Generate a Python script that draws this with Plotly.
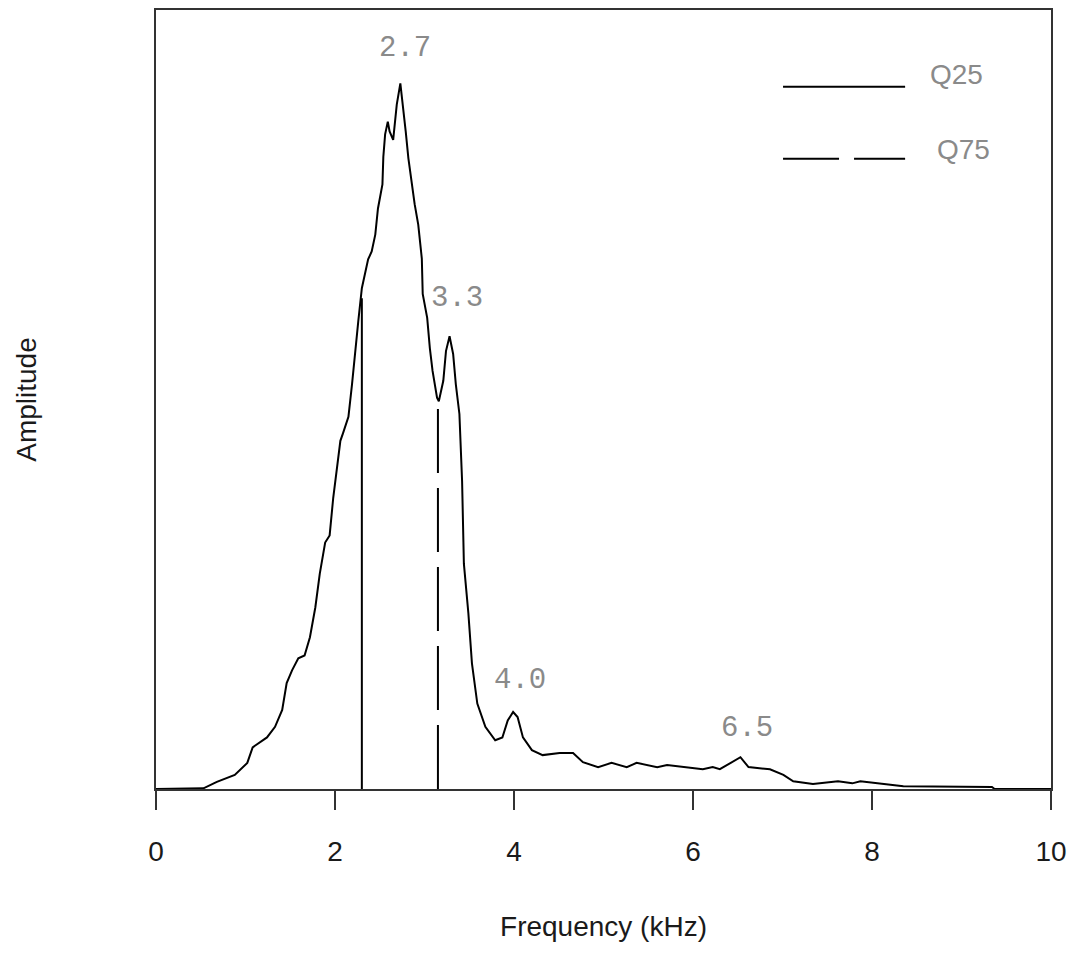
import plotly.graph_objects as go

# Spectrum (frequency in kHz, amplitude normalised to the main peak)
freq = [0.0, 0.29, 0.53, 0.68, 0.88, 1.02, 1.08, 1.24, 1.33, 1.41, 1.46, 1.52, 1.59, 1.66,
        1.72, 1.78, 1.83, 1.89, 1.94, 1.98, 2.02, 2.06, 2.09, 2.15, 2.19, 2.22, 2.26, 2.30,
        2.34, 2.37, 2.41, 2.45, 2.48, 2.53, 2.54, 2.56, 2.59, 2.61, 2.65, 2.67, 2.69, 2.73,
        2.76, 2.79, 2.82, 2.86, 2.89, 2.93, 2.97, 2.98, 3.03, 3.06, 3.09, 3.14, 3.16, 3.21,
        3.24, 3.28, 3.32, 3.35, 3.39, 3.42, 3.44, 3.49, 3.53, 3.59, 3.68, 3.79, 3.87, 3.93,
        3.99, 4.04, 4.10, 4.20, 4.32, 4.51, 4.66, 4.77, 4.94, 5.09, 5.26, 5.37, 5.60, 5.71,
        5.85, 5.93, 6.11, 6.22, 6.30, 6.53, 6.62, 6.86, 7.01, 7.12, 7.34, 7.62, 7.78, 7.87,
        8.09, 8.35, 9.34, 9.37, 10.0]
amp = [0.0, 0.001, 0.001, 0.010, 0.020, 0.037, 0.059, 0.073, 0.088, 0.112, 0.150, 0.168,
       0.185, 0.189, 0.215, 0.257, 0.305, 0.349, 0.359, 0.412, 0.451, 0.493, 0.504, 0.527,
       0.573, 0.616, 0.662, 0.709, 0.733, 0.750, 0.761, 0.785, 0.822, 0.856, 0.895, 0.927,
       0.945, 0.931, 0.919, 0.941, 0.969, 0.999, 0.969, 0.931, 0.893, 0.856, 0.828, 0.799,
       0.751, 0.701, 0.667, 0.624, 0.592, 0.554, 0.549, 0.578, 0.620, 0.641, 0.616, 0.573,
       0.531, 0.436, 0.319, 0.249, 0.178, 0.121, 0.088, 0.069, 0.073, 0.097, 0.109, 0.102,
       0.073, 0.055, 0.048, 0.051, 0.051, 0.038, 0.031, 0.037, 0.031, 0.037, 0.031, 0.034,
       0.032, 0.030, 0.028, 0.031, 0.028, 0.045, 0.031, 0.028, 0.020, 0.011, 0.007, 0.011,
       0.008, 0.011, 0.008, 0.004, 0.003, 0.0, 0.0]

# Quartile markers
q_names = ["Q25", "Q75"]
q_freq = [2.30, 3.15]
q_amp = [0.695, 0.548]

# Peak labels
peak_labels = ["2.7", "3.3", "4.0", "6.5"]
peak_label_x = [2.78, 3.36, 4.07, 6.60]
peak_label_y = [1.048, 0.694, 0.154, 0.085]

x_ticks = [0, 2, 4, 6, 8, 10]

GREY = "#8a8a8a"
INK = "#1a1a1a"

fig = go.Figure()
fig.add_trace(go.Scatter(x=freq, y=amp, mode="lines",
                         line=dict(color="black", width=2), showlegend=False,
                         hoverinfo="x+y"))
dashes = ["solid", "64px,15px"]
for name, qf, qa, d in zip(q_names, q_freq, q_amp, dashes):
    fig.add_trace(go.Scatter(x=[qf, qf], y=[0, qa], mode="lines", name=name,
                             line=dict(color="black", width=2, dash=d),
                             showlegend=False))

for t, x, y in zip(peak_labels, peak_label_x, peak_label_y):
    fig.add_annotation(x=x, y=y, text=t, showarrow=False, xanchor="center", yanchor="middle",
                       font=dict(family="Liberation Mono, Courier New, monospace", size=29, color=GREY))

# Custom legend (paper coordinates)
leg_y = [0.9014, 0.8092]
leg_text_y = [0.9168, 0.8207]
leg_text_x = [0.8626, 0.870]
for name, d, ly, ty, tx in zip(q_names, ["solid", "56px,15px"], leg_y, leg_text_y, leg_text_x):
    fig.add_shape(type="line", xref="paper", yref="paper", x0=0.7006, x1=0.8370, y0=ly, y1=ly,
                  line=dict(color="black", width=2, dash=d))
    fig.add_annotation(xref="paper", yref="paper", x=tx, y=ty, text=name, showarrow=False,
                       xanchor="left", yanchor="middle",
                       font=dict(family="Liberation Sans, Arial, sans-serif", size=28, color=GREY))

# page body has an 8px margin, so the figure is sized to sit inside the viewport
fig.update_layout(
    width=1068, height=945,
    margin=dict(l=148, r=25, t=0, b=164),
    paper_bgcolor="white", plot_bgcolor="white",
    font=dict(family="Liberation Sans, Arial, sans-serif", size=28, color=INK),
)
fig.update_xaxes(range=[0, 10], tickvals=x_ticks, ticktext=[str(v) for v in x_ticks],
                 ticks="outside", ticklen=19, tickwidth=2, tickcolor="#333333",
                 showline=True, linecolor="#333333", linewidth=2, mirror=True,
                 showgrid=False, zeroline=False, ticklabelstandoff=17,
                 tickfont=dict(size=28, color=INK),
                 title=dict(text="Frequency (kHz)", standoff=51, font=dict(size=28, color=INK)))
fig.update_yaxes(range=[0, 1.103], showticklabels=False, ticks="",
                 showline=True, linecolor="#333333", linewidth=2, mirror=True,
                 showgrid=False, zeroline=False,
                 title=dict(text="Amplitude", standoff=109, font=dict(size=28, color=INK)))

fig.write_html("out.html")
